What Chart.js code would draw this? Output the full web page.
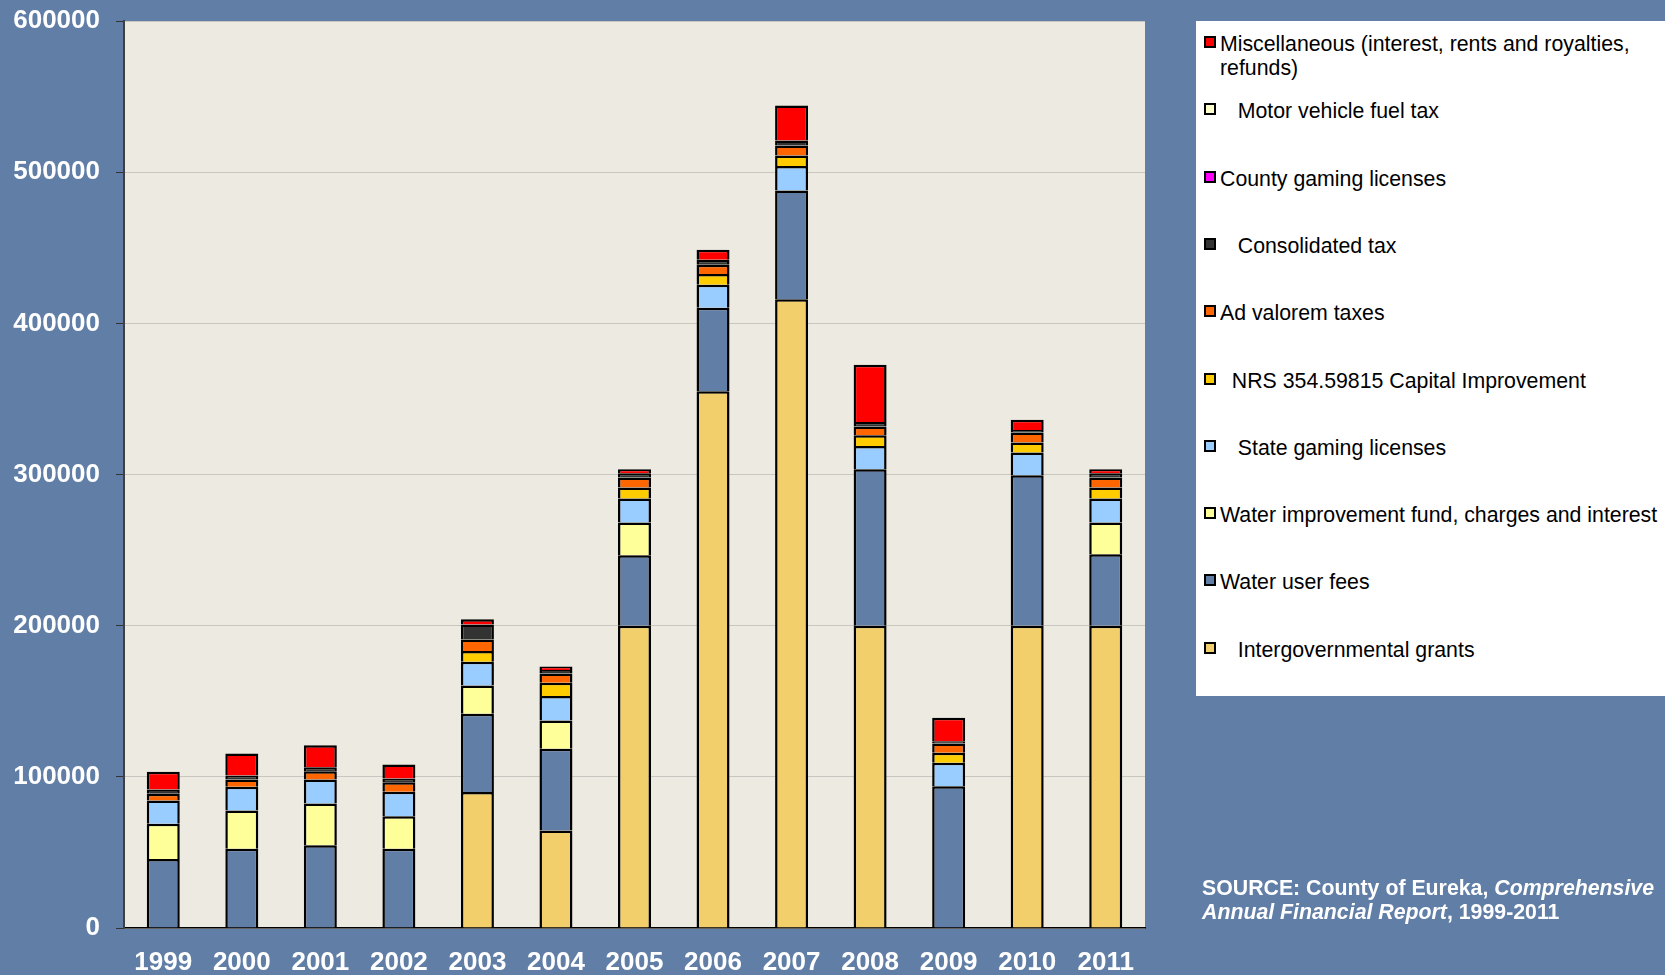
<!DOCTYPE html>
<html>
<head>
<meta charset="utf-8">
<script src="https://cdn.jsdelivr.net/npm/chart.js@4.4.1/dist/chart.umd.min.js"></script>
<style>
  html, body { margin: 0; padding: 0; background: #607EA6; }
  #wrap { position: relative; width: 1665px; height: 975px; overflow: hidden; background: #607EA6; }
  #c { position: absolute; left: 0; top: 0; }
  #legend { position: absolute; left: 1196px; top: 21px; width: 469px; height: 675px; background: #FFFFFF; }
  .item { position: absolute; left: 0; width: 469px; font-family: 'Liberation Sans', Arial, sans-serif; font-size: 21.3px; color: #000; }
  .mark { position: absolute; left: 8px; width: 8px; height: 8px; border: 2px solid #000; }
  .txt { position: absolute; left: 24px; width: 444px; line-height: 24px; white-space: pre-wrap; }
  #source { position: absolute; left: 1202px; top: 877px; font-family: 'Liberation Sans', Arial, sans-serif; font-weight: bold; font-size: 21.3px; line-height: 23.5px; color: #FFFFFF; white-space: nowrap; }
</style>
</head>
<body>
<div id="wrap">
  <canvas id="c" width="1665" height="975"></canvas>
  <div id="legend"></div>
  <div id="source">SOURCE: County of Eureka, <i>Comprehensive</i><br><i>Annual Financial Report</i>, 1999-2011</div>
</div>
<script>
// ---- data ----
const years = ['1999','2000','2001','2002','2003','2004','2005','2006','2007','2008','2009','2010','2011'];
const yTickLabels = ['0','100000','200000','300000','400000','500000','600000'];

const intergovernmentalGrants = [0, 0, 0, 0, 90000, 64500, 200000, 355000, 416000, 200000, 0, 200000, 200000];
const waterUserFees          = [45700, 52500, 54700, 52500, 51700, 54000, 46600, 55300, 71800, 103500, 93800, 99500, 47200];
const waterImprovement       = [23200, 25200, 27600, 21400, 18800, 18800, 21600, 0, 0, 0, 0, 0, 21000];
const stateGaming            = [15400, 15700, 15900, 16200, 15700, 16100, 15900, 15300, 16200, 15400, 15500, 15100, 15900];
const nrsCapital             = [0, 0, 0, 0, 7000, 8900, 7300, 7000, 7000, 7100, 6600, 6600, 7300];
const adValorem              = [4500, 4800, 5500, 6300, 7700, 6100, 6600, 6200, 6600, 5800, 6100, 6600, 6600];
const consolidatedTax        = [2800, 2700, 2700, 2500, 9800, 2200, 2900, 3300, 3300, 3000, 1600, 1700, 2900];
const countyGaming           = [0, 0, 0, 0, 0, 0, 0, 0, 0, 0, 0, 0, 0];
const motorFuelTax           = [0, 0, 0, 0, 0, 0, 0, 0, 0, 0, 0, 0, 0];
const miscellaneous          = [11700, 14500, 14500, 9200, 3500, 2400, 2600, 6600, 23200, 37800, 15500, 6700, 2600];

const seriesNames = [
  'Intergovernmental grants',
  'Water user fees',
  'Water improvement fund, charges and interest',
  'State gaming licenses',
  'NRS 354.59815 Capital Improvement',
  'Ad valorem taxes',
  'Consolidated tax',
  'County gaming licenses',
  'Motor vehicle fuel tax',
  'Miscellaneous (interest, rents and royalties, refunds)'
];
const legendLabels = [
  '   Intergovernmental grants',
  'Water user fees',
  'Water improvement fund, charges and interest',
  '   State gaming licenses',
  '  NRS 354.59815 Capital Improvement',
  'Ad valorem taxes',
  '   Consolidated tax',
  'County gaming licenses',
  '   Motor vehicle fuel tax',
  'Miscellaneous (interest, rents and royalties, refunds)'
];
const seriesValues = [intergovernmentalGrants, waterUserFees, waterImprovement, stateGaming, nrsCapital, adValorem, consolidatedTax, countyGaming, motorFuelTax, miscellaneous];
const seriesColors = ['#F2CF6B', '#607EA6', '#FFFF99', '#99CCFF', '#FFCC00', '#FF6600', '#333333', '#FF00FF', '#FFFFCC', '#FF0000'];

// ---- chart ----
const FONT = "'Liberation Sans', Arial, sans-serif";

const plotBg = {
  id: 'plotBg',
  beforeDraw(chart) {
    const { ctx, chartArea: a } = chart;
    ctx.save();
    ctx.fillStyle = '#EDEBE1';
    ctx.fillRect(a.left, a.top, a.right - a.left, a.bottom - a.top);
    ctx.restore();
  }
};

const datasets = seriesValues.map((vals, i) => ({
  label: seriesNames[i],
  data: vals.map(v => (v === 0 ? null : v)),
  backgroundColor: seriesColors[i],
  borderColor: '#000000',
  borderWidth: { top: 2.5, left: 2.5, right: 2.5, bottom: 0 },
  borderSkipped: false,
  inflateAmount: 0,
  barPercentage: 0.42,
  categoryPercentage: 1.0
}));

new Chart(document.getElementById('c').getContext('2d'), {
  type: 'bar',
  data: { labels: years, datasets },
  plugins: [plotBg],
  options: {
    responsive: false,
    animation: false,
    devicePixelRatio: 1,
    layout: { padding: { left: 0, right: 520, top: 21, bottom: 0 } },
    plugins: { legend: { display: false }, tooltip: { enabled: false }, title: { display: false } },
    scales: {
      x: {
        stacked: true,
        grid: { display: false, drawTicks: false },
        border: { display: true, color: '#000000', width: 1.5 },
        ticks: { color: '#FFFFFF', font: { family: FONT, weight: 'bold', size: 26 }, padding: 19, maxRotation: 0, autoSkip: false },
        afterFit(scale) { scale.height = 47; scale.paddingLeft = 0; scale.paddingRight = 0; }
      },
      y: {
        stacked: true,
        min: 0,
        max: 600000,
        ticks: {
          stepSize: 100000,
          color: '#FFFFFF',
          font: { family: FONT, weight: 'bold', size: 26 },
          padding: 16,
          callback: (v, i) => yTickLabels[i]
        },
        grid: { color: '#C8C6C0', lineWidth: 1, tickColor: '#333333', tickLength: 8, drawTicks: true },
        border: { display: true, color: '#404040', width: 2 },
        afterFit(scale) { scale.width = 124; scale.paddingTop = 0; scale.paddingBottom = 0; }
      }
    }
  }
});

// ---- HTML legend (top of stack first) ----
const legend = document.getElementById('legend');
const order = seriesNames.map((_, i) => i).reverse();
order.forEach((si, row) => {
  const cy = 23 + 67.3 * row; // centre of first text line, relative to legend box
  const item = document.createElement('div');
  item.className = 'item';
  item.style.top = (cy - 12) + 'px';
  const mark = document.createElement('div');
  mark.className = 'mark';
  mark.style.top = '4px';
  mark.style.background = seriesColors[si];
  const txt = document.createElement('div');
  txt.className = 'txt';
  txt.textContent = legendLabels[si];
  item.appendChild(mark);
  item.appendChild(txt);
  legend.appendChild(item);
});
</script>
</body>
</html>
